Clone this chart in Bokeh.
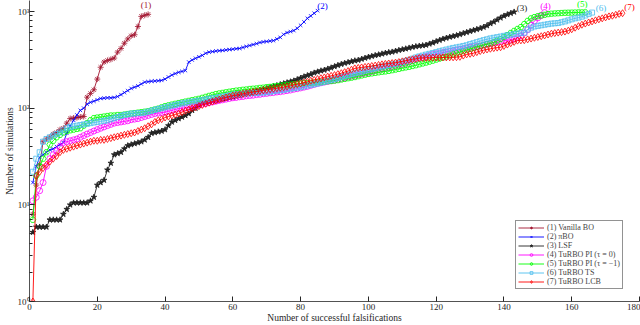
from bokeh.plotting import figure
from bokeh.models import Range1d, FixedTicker, Legend, LegendItem, Label
from bokeh.embed import file_html
from bokeh.resources import INLINE

# ---------------- data ----------------
labels = ["(1) Vanilla BO", "(2) \u03c0BO", "(3) LSF", "(4) TuRBO PI (\u03c4 = 0)",
          "(5) TuRBO PI (\u03c4 = \u22121)", "(6) TuRBO TS", "(7) TuRBO LCB"]
short_labels = ["(1)", "(2)", "(3)", "(4)", "(5)", "(6)", "(7)"]
x_title = "Number of successful falsifications"
y_title = "Number of simulations"

vanilla_bo = [8, 16, 26, 45, 48, 50, 54, 56, 60, 62, 70, 78, 79, 80, 81, 82, 130, 142, 155, 200,
              265, 300, 312, 320, 330, 380, 415, 470, 520, 560, 575, 700, 890, 915, 935]

pi_bo = [17, 25, 31, 33, 35, 37, 38, 40, 42, 44, 55, 65, 75, 85, 95, 100, 110, 115, 118, 122,
         126, 127, 128, 128, 129, 132, 138, 145, 152, 160, 165, 170, 178, 186, 188, 190, 191, 192, 194, 200,
         210, 220, 228, 235, 240, 245, 300, 315, 328, 340, 352, 370, 380, 385, 390, 393, 396, 400, 404, 408,
         412, 415, 425, 435, 445, 455, 465, 478, 485, 490, 495, 500, 520, 540, 580, 605, 620, 635, 670, 720,
         780, 850, 900, 960, 1020]

lsf = [5.2, 5.9, 5.9, 5.9, 5.9, 7, 7, 7, 7, 8,
       9, 10, 10.5, 10.5, 10.5, 10.5, 10.5, 11, 12, 16,
       17, 18, 23, 27, 33, 34, 35, 38, 41, 42,
       43, 44, 45, 47, 50, 55, 56, 57, 58, 60,
       66, 72, 75, 78, 81, 84, 88, 95, 100, 107,
       112, 114, 116, 118, 120, 122, 124, 126, 128, 130,
       133, 136, 139, 142, 145, 148, 151, 154, 157, 160,
       164, 168, 172, 176, 180, 184, 188, 192, 198, 205,
       212, 218, 224, 232, 238, 244, 248, 255, 262, 270,
       278, 285, 292, 298, 304, 310, 314, 322, 330, 338,
       345, 352, 358, 365, 372, 378, 382, 390, 398, 405,
       412, 420, 428, 435, 440, 445, 450, 462, 475, 490,
       505, 520, 532, 545, 555, 566, 580, 595, 610, 625,
       640, 655, 670, 690, 715, 750, 780, 820, 860, 900,
       930, 960, 990]

turbo_pi_0 = [11, 12, 14, 17, 25, 30, 33, 36, 40, 44,
              45, 46, 47, 48, 50, 52, 54, 56, 58, 60,
              62, 64, 66, 68, 70, 71, 72, 73, 74, 76,
              77, 78, 80, 82, 84, 86, 88, 89, 90, 91,
              93, 95, 97, 99, 100, 101, 102, 104, 106, 108,
              110, 112, 114, 116, 118, 120, 122, 124, 126, 128,
              129, 131, 132, 134, 135, 136, 138, 139, 141, 142,
              144, 145, 147, 148, 150, 152, 154, 157, 159, 162,
              165, 168, 172, 176, 180, 183, 186, 189, 192, 195,
              199, 203, 207, 211, 215, 219, 223, 227, 231, 235,
              240, 245, 250, 255, 260, 265, 270, 275, 280, 285,
              292, 300, 310, 320, 330, 335, 342, 350, 358, 365,
              370, 376, 382, 388, 394, 400, 406, 412, 420, 430,
              432, 435, 440, 450, 460, 468, 475, 482, 490, 500,
              505, 510, 520, 540, 560, 600, 650, 720, 800, 860,
              910, 975]

turbo_pi_m1 = [7, 20, 25, 30, 35, 42, 46, 50, 53, 56,
               58, 59, 60, 61, 62, 66, 70, 75, 79, 80,
               81, 82, 83, 84, 84, 85, 85, 86, 87, 88,
               89, 90, 91, 92, 93, 95, 97, 99, 102, 105,
               107, 109, 111, 113, 115, 117, 119, 121, 123, 125,
               128, 131, 134, 137, 140, 142, 144, 146, 148, 150,
               152, 153, 155, 156, 158, 159, 160, 162, 163, 165,
               166, 168, 169, 171, 172, 174, 175, 177, 178, 180,
               181, 182, 183, 184, 185, 186, 188, 190, 191, 193,
               195, 198, 201, 204, 207, 210, 214, 218, 222, 226,
               229, 232, 235, 238, 240, 243, 247, 251, 255, 260,
               264, 268, 273, 278, 284, 290, 296, 303, 310, 318,
               326, 334, 342, 350, 360, 370, 380, 390, 400, 410,
               420, 430, 440, 450, 460, 468, 480, 500, 520, 545,
               570, 600, 630, 660, 690, 740, 800, 850, 875, 895,
               910, 925, 940, 950, 955, 960, 965, 970, 972, 974,
               976, 978, 979, 980]

turbo_ts = [22, 30, 35, 45, 48, 50, 52, 54, 56, 59,
            62, 64, 65, 66, 67, 68, 69, 70, 71, 72,
            73, 74, 75, 77, 79, 81, 83, 85, 86, 88,
            88, 89, 89, 90, 92, 94, 96, 98, 100, 102,
            104, 106, 108, 110, 112, 114, 115, 117, 118, 120,
            121, 123, 125, 127, 128, 130, 132, 134, 136, 138,
            139, 140, 141, 142, 143, 144, 144, 145, 145, 146,
            148, 150, 152, 153, 155, 157, 159, 161, 163, 165,
            168, 171, 174, 177, 180, 184, 188, 192, 196, 200,
            205, 210, 215, 220, 225, 230, 235, 240, 245, 250,
            255, 260, 265, 270, 275, 280, 284, 288, 294, 300,
            308, 316, 325, 335, 343, 350, 358, 365, 372, 380,
            388, 396, 404, 412, 420, 426, 432, 440, 448, 460,
            470, 482, 494, 506, 516, 527, 535, 543, 551, 560,
            568, 576, 583, 590, 598, 605, 650, 680, 700, 710,
            720, 730, 740, 750, 755, 760, 775, 790, 810, 830,
            850, 865, 885, 910, 945, 975]

turbo_lcb = [1, 20, 22, 24, 26, 28, 30, 32, 35, 37,
             38, 39, 40, 41, 42, 43, 44, 45, 46, 46,
             47, 47, 48, 49, 50, 51, 52, 53, 54, 55,
             56, 58, 60, 62, 65, 68, 72, 75, 77, 80,
             82, 84, 86, 88, 91, 94, 97, 100, 102, 105,
             108, 111, 114, 117, 120, 123, 126, 129, 132, 135,
             137, 139, 141, 143, 145, 147, 149, 151, 153, 155,
             157, 159, 161, 163, 165, 168, 171, 174, 177, 180,
             184, 188, 192, 196, 200, 204, 208, 212, 216, 220,
             225, 230, 236, 242, 250, 258, 261, 264, 267, 270,
             273, 276, 280, 284, 287, 290, 293, 296, 300, 305,
             310, 315, 320, 325, 330, 331, 332, 333, 333, 334,
             334, 335, 335, 336, 336, 337, 340, 350, 360, 365,
             370, 380, 390, 398, 405, 412, 418, 423, 427, 440,
             455, 470, 485, 500, 503, 505, 515, 525, 535, 545,
             555, 565, 578, 590, 598, 605, 612, 620, 635, 655,
             680, 705, 730, 750, 770, 790, 810, 830, 850, 870,
             890, 905, 925, 945, 960]

series = [vanilla_bo, pi_bo, lsf, turbo_pi_0, turbo_pi_m1, turbo_ts, turbo_lcb]

x_ticks = [0, 20, 40, 60, 80, 100, 120, 140, 160, 180]
y_ticks = [1, 10, 100, 1000]
y_tick_labels = {1: "10\u2070", 10: "10\u00b9", 100: "10\u00b2", 1000: "10\u00b3"}

# ---------------- styles ----------------
colors = ["#A2142F", "#0000FF", "#222222", "#FF00FF", "#00FF00", "#4DBEEE", "#FF0000"]
markers = ["asterisk", "x", "star", "circle", "hex", "square", "diamond"]
msizes = [6, 5, 6, 6, 6, 5, 7]
filled = [False, False, True, False, False, False, False]
lab_off = [(-2, 9), (5, 5), (8, 4), (1, 7), (-3, 8), (9, 5), (7, 6)]

FONT = "Liberation Serif"
AX = "#262626"

p = figure(width=640, height=325, x_range=Range1d(0, 180), y_range=Range1d(1, 1300),
           y_axis_type="log", output_backend="svg", toolbar_location=None,
           min_border_left=29, min_border_right=1, min_border_top=0, min_border_bottom=23)
p.outline_line_color = None
p.xgrid.visible = False
p.ygrid.visible = False
p.background_fill_color = "white"

items = []
for i, s in enumerate(series):
    xs = list(range(1, len(s) + 1))
    lr = p.line(xs, s, line_color=colors[i], line_width=0.9)
    sr = p.scatter(xs, s, marker=markers[i], size=msizes[i], line_color=colors[i],
                   fill_color=colors[i] if filled[i] else None, line_width=0.8)
    items.append(LegendItem(label=labels[i], renderers=[lr, sr]))
    p.add_layout(Label(x=xs[-1], y=s[-1], text=short_labels[i], x_offset=lab_off[i][0],
                       y_offset=lab_off[i][1], text_align="center", text_baseline="middle",
                       text_color=colors[i], text_font=FONT, text_font_size="9px"))

legend = Legend(items=items, location=(486, 12), label_text_font=FONT, label_text_font_size="8px",
                glyph_width=26, glyph_height=7, label_height=7, spacing=0, padding=2, margin=0,
                label_standoff=3, border_line_color=AX, border_line_width=0.8,
                background_fill_alpha=1.0)
p.add_layout(legend)

p.xaxis.ticker = FixedTicker(ticks=x_ticks)
p.yaxis.ticker = FixedTicker(ticks=y_ticks,
                             minor_ticks=[m * d for d in (1, 10, 100) for m in range(2, 10)])
p.yaxis.major_label_overrides = y_tick_labels

for ax in (p.xaxis[0], p.yaxis[0]):
    ax.axis_line_color = AX
    ax.axis_line_width = 0.8
    ax.major_tick_line_color = AX
    ax.minor_tick_line_color = AX
    ax.major_tick_in = 5
    ax.major_tick_out = 0
    ax.minor_tick_in = 3
    ax.minor_tick_out = 0
    ax.major_label_text_font = FONT
    ax.major_label_text_font_size = "9px"
    ax.major_label_text_color = AX
    ax.axis_label_text_font = FONT
    ax.axis_label_text_font_size = "9.5px"
    ax.axis_label_text_font_style = "normal"
    ax.axis_label_text_color = AX
p.xaxis.minor_tick_line_color = None
p.xaxis.axis_label = x_title
p.yaxis.axis_label = y_title
p.xaxis.major_label_standoff = 2
p.xaxis.axis_label_standoff = 0
p.yaxis.major_label_standoff = 0
p.yaxis.axis_label_standoff = 0

open("out.html", "w").write(file_html(p, INLINE))
